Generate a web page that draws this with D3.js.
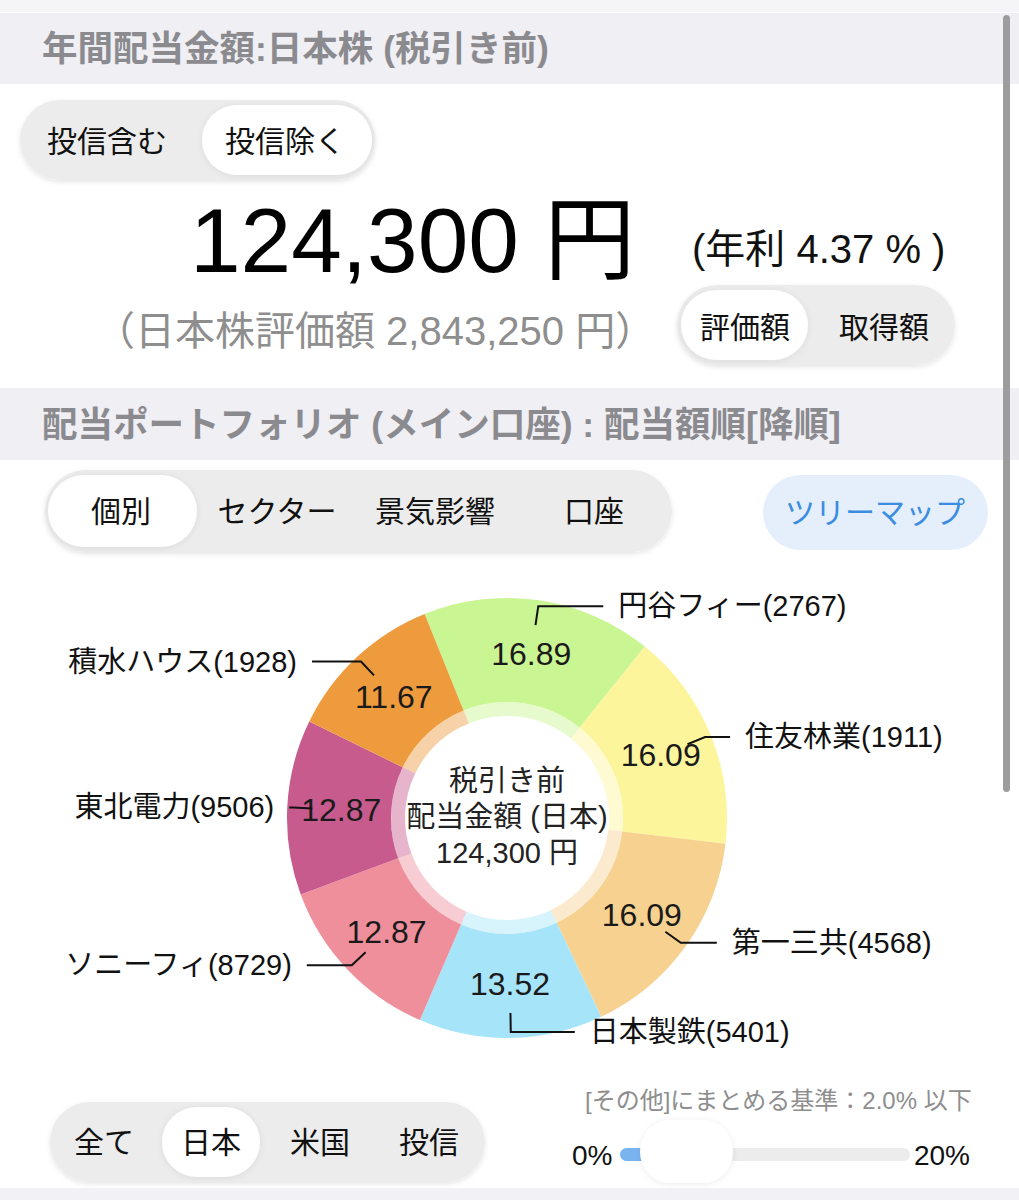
<!DOCTYPE html>
<html><head><meta charset="utf-8">
<script src="https://cdn.jsdelivr.net/npm/d3@7"></script>
<style>
body{margin:0;background:#fff;}
svg{display:block;}
text{font-family:"Liberation Sans","Noto Sans CJK JP",sans-serif;}
</style>
</head><body>
<svg id="c" width="1019" height="1200"></svg>
<script>
// ---- data ----
const stockNames = ["円谷フィー(2767)", "住友林業(1911)", "第一三共(4568)", "日本製鉄(5401)", "ソニーフィ(8729)", "東北電力(9506)", "積水ハウス(1928)"];
const dividendShares = [16.89, 16.09, 16.09, 13.52, 12.87, 12.87, 11.67];
const sliceColors = ["#c9f592", "#fcf59c", "#f6d190", "#a6e4f9", "#ee8f9b", "#c75b8e", "#ee9b3e"];
const totalDividend = 124300;
const annualYield = "4.37";
const marketValue = 2843250;
const fundToggle = ["投信含む", "投信除く"];
const basisToggle = ["評価額", "取得額"];
const viewTabs = ["個別", "セクター", "景気影響", "口座"];
const regionTabs = ["全て", "日本", "米国", "投信"];
const sliderTicks = ["0%", "20%"];
const otherThreshold = "2.0";

// ---- layout ----
const leaderLengths = [65, 25, 36, 64, 45, 4, 49];

const svg = d3.select("#c");
const defs = svg.append("defs");
const sh = defs.append("filter").attr("id","sh").attr("x","-20%").attr("y","-30%").attr("width","140%").attr("height","170%");
sh.append("feDropShadow").attr("dx",0).attr("dy",2).attr("stdDeviation",2.5).attr("flood-color","#000").attr("flood-opacity",0.10);
const sh2 = defs.append("filter").attr("id","sh2").attr("x","-30%").attr("y","-40%").attr("width","160%").attr("height","190%");
sh2.append("feDropShadow").attr("dx",0).attr("dy",1).attr("stdDeviation",3).attr("flood-color","#000").attr("flood-opacity",0.08);

const fmt = d3.format(",");
const headerGray = "#8a8a8f";

// background bands
svg.append("rect").attr("x",0).attr("y",0).attr("width",1019).attr("height",12).attr("fill","#f5f5f7");
svg.append("rect").attr("x",0).attr("y",13).attr("width",1019).attr("height",71).attr("fill","#efeff4");
svg.append("rect").attr("x",0).attr("y",388).attr("width",1019).attr("height",72).attr("fill","#efeff4");
svg.append("rect").attr("x",0).attr("y",1188).attr("width",1019).attr("height",12).attr("fill","#f2f2f6");

// headers
svg.append("text").attr("x",42).attr("y",49).attr("dominant-baseline","central")
  .attr("font-size",35.5).attr("font-weight","bold").attr("fill",headerGray)
  .text("年間配当金額:日本株 (税引き前)");
svg.append("text").attr("x",42).attr("y",425).attr("dominant-baseline","central")
  .attr("font-size",35.5).attr("font-weight","bold").attr("fill",headerGray)
  .text("配当ポートフォリオ (メイン口座) : 配当額順[降順]");

// segmented control helper
function segmented(outer, selRect, labels, centers, cy, fs) {
  const g = svg.append("g");
  g.append("rect").attr("x",outer[0]).attr("y",outer[1]).attr("width",outer[2]).attr("height",outer[3])
    .attr("rx",outer[3]/2).attr("fill","#ececec").attr("filter","url(#sh)");
  g.append("rect").attr("x",selRect[0]).attr("y",selRect[1]).attr("width",selRect[2]).attr("height",selRect[3])
    .attr("rx",selRect[3]/2).attr("fill","#fff").attr("filter","url(#sh2)");
  g.selectAll("text.l").data(labels).join("text").attr("class","l")
    .attr("x",(d,i)=>centers[i]).attr("y",cy).attr("text-anchor","middle").attr("dominant-baseline","central")
    .attr("font-size",fs).attr("fill","#111").text(d=>d);
}
segmented([20,100,355,80],[202,105,170,70],fundToggle,[107,285],141,30);
segmented([677,285,278,80],[681,290,127,70],basisToggle,[745,884],327,30);
segmented([45,470,627,82],[48,475,149,72],viewTabs,[121,277,435,594],511,30);
segmented([50,1102,435,80],[162,1107,98,70],regionTabs,[104,211,320,429],1142,30);

// big number
svg.append("text").attr("x",190).attr("y",272).attr("font-size",91).attr("fill","#000")
  .text(fmt(totalDividend) + " 円");
svg.append("text").attr("x",692).attr("y",263).attr("font-size",40).attr("fill","#111")
  .text("(年利 " + annualYield + " % )");
svg.append("text").attr("x",95).attr("y",345).attr("font-size",40).attr("fill","#8e8e8e")
  .text("（日本株評価額 " + fmt(marketValue) + " 円）");

// tree map button
svg.append("rect").attr("x",763).attr("y",475).attr("width",225).attr("height",75).attr("rx",37.5).attr("fill","#e4effb");
svg.append("text").attr("x",875).attr("y",512).attr("text-anchor","middle").attr("dominant-baseline","central")
  .attr("font-size",30).attr("fill","#3a8de0").text("ツリーマップ");

// scrollbar
svg.append("rect").attr("x",1003).attr("y",15).attr("width",7).attr("height",777).attr("rx",3.5).attr("fill","#9d9d9d");

// ---- donut ----
const cx = 507, cy = 818, R = 220, rIn = 116, rBand = 102;
const g = svg.append("g").attr("transform",`translate(${cx},${cy})`);
const start = -22 * Math.PI / 180;
const pie = d3.pie().sort(null).value(d=>d).startAngle(start).endAngle(start + 2*Math.PI);
const arcs = pie(dividendShares);
const arcMain = d3.arc().innerRadius(rIn).outerRadius(R);
const arcBand = d3.arc().innerRadius(rBand).outerRadius(rIn);
g.selectAll("path.s").data(arcs).join("path").attr("class","s").attr("d",arcMain).attr("fill",(d,i)=>sliceColors[i]);
g.selectAll("path.b").data(arcs).join("path").attr("class","b").attr("d",arcBand).attr("fill",(d,i)=>sliceColors[i]).attr("fill-opacity",0.45);

// value labels
const labelArc = d3.arc().innerRadius(166).outerRadius(166);
g.selectAll("text.v").data(arcs).join("text").attr("class","v")
  .attr("transform",d=>`translate(${labelArc.centroid(d)})`)
  .attr("text-anchor","middle").attr("dominant-baseline","central")
  .attr("font-size",32).attr("fill","#1a1a1a").text(d=>d.data.toFixed(2));

// leader lines + names
const pt = (a,r)=>[r*Math.sin(a), -r*Math.cos(a)];
arcs.forEach((d,i)=>{
  const mid = (d.startAngle + d.endAngle)/2;
  const p1 = pt(mid,195), p2 = pt(mid,214);
  const right = Math.sin(mid) > 0;
  const p3 = [p2[0] + (right?1:-1)*leaderLengths[i], p2[1]];
  g.append("path").attr("d", d3.line()([p1,p2,p3])).attr("fill","none").attr("stroke","#111").attr("stroke-width",2);
  g.append("text").attr("x",p3[0] + (right?15:-15)).attr("y",p3[1]).attr("text-anchor",right?"start":"end")
    .attr("dominant-baseline","central").attr("font-size",29).attr("fill","#111").text(stockNames[i]);
});

// center text
const centerLines = ["税引き前", "配当金額 (日本)", fmt(totalDividend) + " 円"];
g.selectAll("text.c").data(centerLines).join("text").attr("class","c")
  .attr("x",0).attr("y",(d,i)=>-37 + i*36).attr("text-anchor","middle").attr("dominant-baseline","central")
  .attr("font-size",29).attr("fill","#222").text(d=>d);

// ---- slider ----
svg.append("text").attr("x",585).attr("y",1100).attr("dominant-baseline","central").attr("font-size",24).attr("fill","#8e8e8e")
  .text("[その他]にまとめる基準：" + otherThreshold + "% 以下");
const sx = d3.scaleLinear().domain([0,20]).range([620,910]);
svg.append("text").attr("x",572).attr("y",1155).attr("dominant-baseline","central").attr("font-size",28).attr("fill","#111").text(sliderTicks[0]);
svg.append("text").attr("x",970).attr("y",1155).attr("text-anchor","end").attr("dominant-baseline","central").attr("font-size",28).attr("fill","#111").text(sliderTicks[1]);
svg.append("rect").attr("x",sx(0)).attr("y",1148).attr("width",sx(20)-sx(0)).attr("height",13).attr("rx",6.5).attr("fill","#ececec");
svg.append("rect").attr("x",sx(0)).attr("y",1148).attr("width",sx(+otherThreshold)-sx(0)+20).attr("height",13).attr("rx",6.5).attr("fill","#7ab4f0");
svg.append("rect").attr("x",sx(+otherThreshold)-9).attr("y",1120).attr("width",93).attr("height",63).attr("rx",31).attr("fill","#fff").attr("filter","url(#sh2)");
</script>
</body></html>
